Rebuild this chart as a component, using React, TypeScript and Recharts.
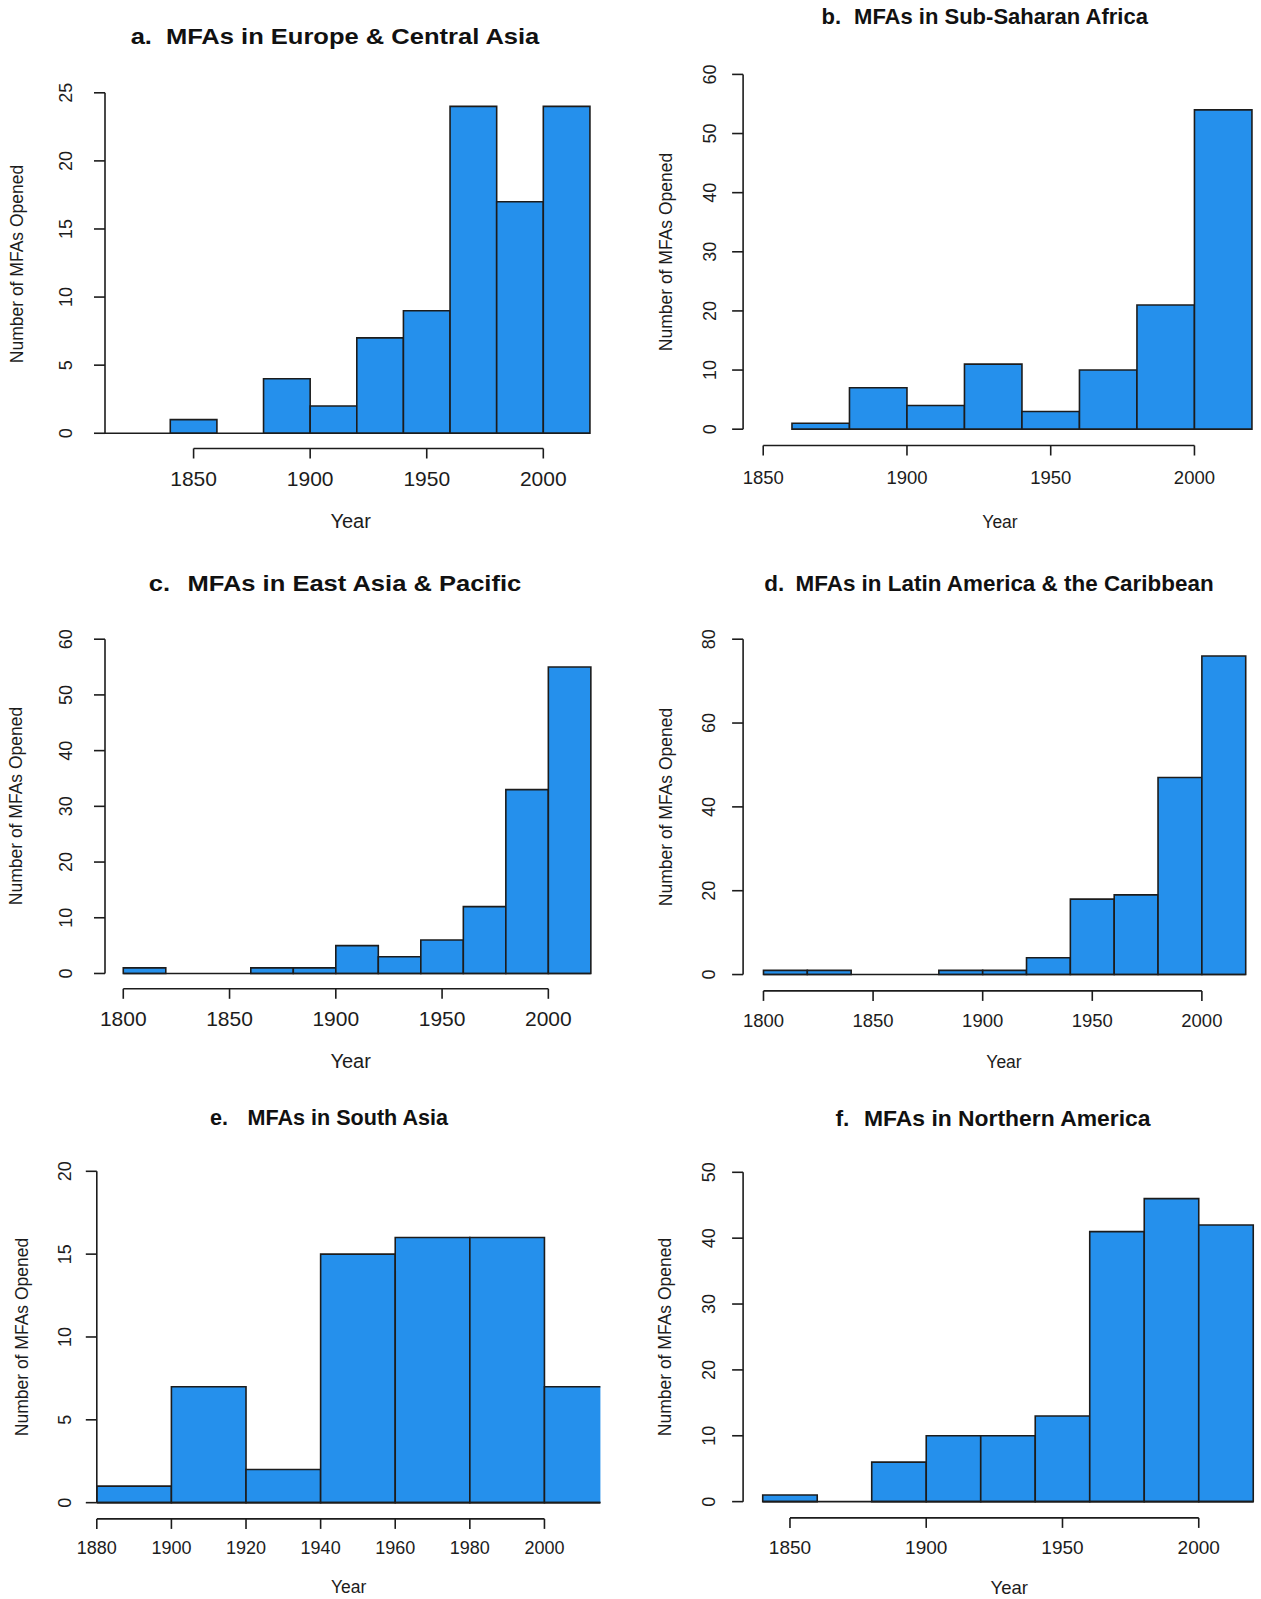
import { ComposedChart, XAxis, YAxis, ReferenceArea, ReferenceLine } from 'recharts';

const FILL = '#2590ec';
const INK = '#1c1c1c';
const FONT = '"Liberation Sans", Arial, Helvetica, sans-serif';
const BIN = 20;
const X_AXIS_H = 44;
const Y_AXIS_W = 52;

// left edge of each 20-year bin and the count in it
const europeBins = [1800, 1820, 1840, 1860, 1880, 1900, 1920, 1940, 1960, 1980, 2000];
const europeCounts = [0, 0, 1, 0, 4, 2, 7, 9, 24, 17, 24];

const africaBins = [1860, 1880, 1900, 1920, 1940, 1960, 1980, 2000];
const africaCounts = [1, 7, 4, 11, 3, 10, 21, 54];

const eastAsiaBins = [1800, 1820, 1840, 1860, 1880, 1900, 1920, 1940, 1960, 1980, 2000];
const eastAsiaCounts = [1, 0, 0, 1, 1, 5, 3, 6, 12, 33, 55];

const latamBins = [1800, 1820, 1840, 1860, 1880, 1900, 1920, 1940, 1960, 1980, 2000];
const latamCounts = [1, 1, 0, 0, 1, 1, 4, 18, 19, 47, 76];

const southAsiaBins = [1880, 1900, 1920, 1940, 1960, 1980, 2000];
const southAsiaCounts = [1, 7, 2, 15, 16, 16, 7];

const northAmBins = [1840, 1860, 1880, 1900, 1920, 1940, 1960, 1980, 2000];
const northAmCounts = [1, 0, 6, 10, 10, 13, 41, 46, 42];

// tick labels
const yearTicks = [1850, 1900, 1950, 2000];
const yearTicksFrom1800 = [1800, 1850, 1900, 1950, 2000];
const yearTicksBy20 = [1880, 1900, 1920, 1940, 1960, 1980, 2000];

const countTicks25 = [0, 5, 10, 15, 20, 25];
const countTicks60 = [0, 10, 20, 30, 40, 50, 60];
const countTicks80 = [0, 20, 40, 60, 80];
const countTicks20 = [0, 5, 10, 15, 20];
const countTicks50 = [0, 10, 20, 30, 40, 50];

type Panel = {
  tag: string;
  title: string;
  bins: number[];
  counts: number[];
  xTicks: number[];
  yTicks: number[];
  xDomain: [number, number];
  yBelow: number;
  box: { left: number; top: number; width: number; height: number };
  plot: { left: number; top: number; right: number; bottom: number };
  yTickGap: number;
  xTickGap: number;
  xFont: number;
  titleAt: [number, number];
  tagGap: number;
  titleScale: number;
  yearAt: [number, number];
  yearFont: number;
  yLabelAt: [number, number];
};

const panels: Panel[] = [
  {
    tag: 'a.', title: 'MFAs in Europe & Central Asia',
    bins: europeBins, counts: europeCounts, xTicks: yearTicks, yTicks: countTicks25,
    xDomain: [1812, 2022], yBelow: 1.12,
    box: { left: 0, top: 0, width: 630, height: 540 },
    plot: { left: 105, top: 92.8, right: 594.6, bottom: 448.5 },
    yTickGap: 22, xTickGap: 13, xFont: 21,
    titleAt: [334.9, 36.7], tagGap: 12, titleScale: 1.16,
    yearAt: [350.7, 521], yearFont: 20, yLabelAt: [17.5, 263.5],
  },
  {
    tag: 'b.', title: 'MFAs in Sub-Saharan Africa',
    bins: africaBins, counts: africaCounts, xTicks: yearTicks, yTicks: countTicks60,
    xDomain: [1843, 2022], yBelow: 2.76,
    box: { left: 630, top: 0, width: 631, height: 540 },
    plot: { left: 743.1, top: 74.4, right: 1257.7, bottom: 445.5 },
    yTickGap: 16, xTickGap: 15, xFont: 18.5,
    titleAt: [984.7, 16.6], tagGap: 13, titleScale: 1.0,
    yearAt: [1000, 523], yearFont: 17.5, yLabelAt: [667.3, 251.8],
  },
  {
    tag: 'c.', title: 'MFAs in East Asia & Pacific',
    bins: eastAsiaBins, counts: eastAsiaCounts, xTicks: yearTicksFrom1800, yTicks: countTicks60,
    xDomain: [1791.4, 2022], yBelow: 2.75,
    box: { left: 0, top: 540, width: 630, height: 530 },
    plot: { left: 105, top: 639.2, right: 595.1, bottom: 988.8 },
    yTickGap: 22, xTickGap: 12, xFont: 21,
    titleAt: [335.4, 583.6], tagGap: 15, titleScale: 1.16,
    yearAt: [350.7, 1061], yearFont: 20, yLabelAt: [17, 806.4],
  },
  {
    tag: 'd.', title: 'MFAs in Latin America & the Caribbean',
    bins: latamBins, counts: latamCounts, xTicks: yearTicksFrom1800, yTicks: countTicks80,
    xDomain: [1790.7, 2022], yBelow: 3.9,
    box: { left: 630, top: 540, width: 631, height: 530 },
    plot: { left: 743.1, top: 639.2, right: 1250.1, bottom: 990.9 },
    yTickGap: 17, xTickGap: 13, xFont: 18.5,
    titleAt: [989.3, 583.6], tagGap: 11, titleScale: 1.02,
    yearAt: [1004, 1062.5], yearFont: 17.5, yLabelAt: [667, 806.9],
  },
  {
    tag: 'e.', title: 'MFAs in South Asia',
    bins: southAsiaBins, counts: southAsiaCounts, xTicks: yearTicksBy20, yTicks: countTicks20,
    xDomain: [1880, 2015], yBelow: 0.98,
    box: { left: 0, top: 1070, width: 630, height: 529 },
    plot: { left: 96.8, top: 1171.3, right: 600.4, bottom: 1518.9 },
    yTickGap: 14.5, xTickGap: 12, xFont: 18,
    titleAt: [329.3, 1117.5], tagGap: 20, titleScale: 0.98,
    yearAt: [348.6, 1588], yearFont: 17.5, yLabelAt: [22.8, 1337],
  },
  {
    tag: 'f.', title: 'MFAs in Northern America',
    bins: northAmBins, counts: northAmCounts, xTicks: yearTicks, yTicks: countTicks50,
    xDomain: [1832.8, 2022], yBelow: 2.47,
    box: { left: 630, top: 1070, width: 631, height: 529 },
    plot: { left: 743.1, top: 1172.3, right: 1258.7, bottom: 1517.9 },
    yTickGap: 17, xTickGap: 13, xFont: 19,
    titleAt: [993.4, 1118.5], tagGap: 14, titleScale: 1.04,
    yearAt: [1009.2, 1588], yearFont: 18.5, yLabelAt: [665.5, 1337],
  },
];

function RotatedTick(props: any) {
  const { x, y, payload } = props;
  return (
    <text
      x={x}
      y={y}
      transform={`rotate(-90, ${x}, ${y})`}
      textAnchor="middle"
      fontSize={18}
      fontFamily={FONT}
      fill={INK}
    >
      {payload.value}
    </text>
  );
}

function Histogram({ p }: { p: Panel }) {
  const rows = p.bins.map((start, i) => ({ start, end: start + BIN, count: p.counts[i] }));
  const yMax = p.yTicks[p.yTicks.length - 1];
  const [xLo, xHi] = p.xDomain;
  const margin = {
    top: p.plot.top - p.box.top,
    bottom: p.box.top + p.box.height - p.plot.bottom - X_AXIS_H,
    left: p.plot.left - p.box.left - Y_AXIS_W,
    right: p.box.left + p.box.width - p.plot.right,
  };
  const lineStyle = { stroke: INK, strokeWidth: 1.6 };
  const baseFrom = Math.max(rows[0].start, xLo);
  const baseTo = Math.min(rows[rows.length - 1].end, xHi);

  return (
    <>
      <div style={{ position: 'absolute', left: p.box.left, top: p.box.top }}>
        <ComposedChart width={p.box.width} height={p.box.height} data={rows} margin={margin}>
          <XAxis
            type="number"
            dataKey="start"
            domain={p.xDomain}
            allowDataOverflow
            ticks={p.xTicks}
            interval={0}
            axisLine={false}
            tickLine={lineStyle}
            tickSize={10}
            tickMargin={p.xTickGap}
            height={X_AXIS_H}
            tick={{ fill: INK, fontSize: p.xFont, fontFamily: FONT }}
          />
          <YAxis
            type="number"
            domain={[-p.yBelow, yMax]}
            allowDataOverflow
            ticks={p.yTicks}
            interval={0}
            axisLine={false}
            tickLine={lineStyle}
            tickSize={11}
            tickMargin={p.yTickGap}
            width={Y_AXIS_W}
            tick={(props: any) => <RotatedTick {...props} />}
          />
          {rows
            .filter((r) => r.count > 0)
            .map((r) => (
              <ReferenceArea
                key={r.start}
                x1={r.start}
                x2={r.end}
                y1={0}
                y2={r.count}
                fill={FILL}
                fillOpacity={1}
                stroke={INK}
                strokeWidth={1.6}
                ifOverflow="hidden"
              />
            ))}
          <ReferenceLine
            segment={[{ x: baseFrom, y: 0 }, { x: baseTo, y: 0 }]}
            {...lineStyle}
            ifOverflow="visible"
          />
          <ReferenceLine
            segment={[{ x: xLo, y: 0 }, { x: xLo, y: yMax }]}
            {...lineStyle}
            ifOverflow="visible"
          />
          <ReferenceLine
            segment={[
              { x: p.xTicks[0], y: -p.yBelow },
              { x: p.xTicks[p.xTicks.length - 1], y: -p.yBelow },
            ]}
            {...lineStyle}
            ifOverflow="visible"
          />
        </ComposedChart>
      </div>
      <div
        style={{
          position: 'absolute',
          left: p.titleAt[0],
          top: p.titleAt[1],
          transform: `translate(-50%, -50%) scaleX(${p.titleScale})`,
          whiteSpace: 'nowrap',
          fontWeight: 'bold',
          fontSize: 22,
          lineHeight: 1,
          color: '#111',
        }}
      >
        <span>{p.tag}</span>
        <span style={{ marginLeft: p.tagGap }}>{p.title}</span>
      </div>
      <div
        style={{
          position: 'absolute',
          left: p.yearAt[0],
          top: p.yearAt[1],
          transform: 'translate(-50%, -50%)',
          fontSize: p.yearFont,
          lineHeight: 1,
          whiteSpace: 'nowrap',
        }}
      >
        Year
      </div>
      <div
        style={{
          position: 'absolute',
          left: p.yLabelAt[0],
          top: p.yLabelAt[1],
          transform: 'translate(-50%, -50%) rotate(-90deg)',
          fontSize: 17.5,
          lineHeight: 1,
          whiteSpace: 'nowrap',
        }}
      >
        Number of MFAs Opened
      </div>
    </>
  );
}

export default function App() {
  return (
    <div
      style={{
        position: 'absolute',
        left: 0,
        top: 0,
        width: 1261,
        height: 1599,
        background: '#fff',
        overflow: 'hidden',
        fontFamily: FONT,
        color: INK,
      }}
    >
      {panels.map((p) => (
        <Histogram key={p.tag} p={p} />
      ))}
    </div>
  );
}
